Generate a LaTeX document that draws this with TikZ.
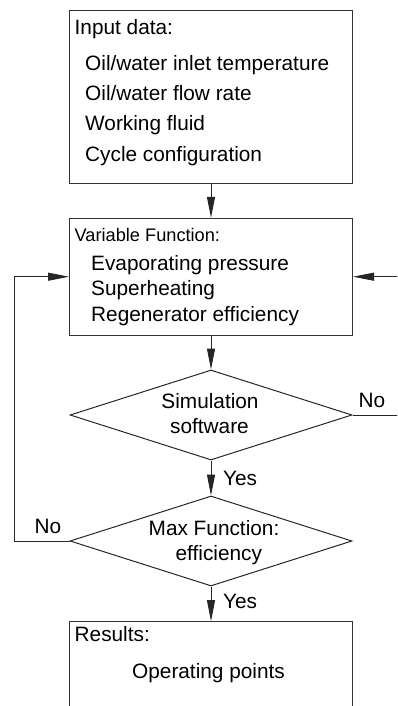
\documentclass[tikz,border=0pt]{standalone}
\usepackage{fontspec}
\setmainfont{Liberation Sans}
\usetikzlibrary{arrows.meta,shapes.geometric}
\begin{document}
\begin{tikzpicture}[x=1pt,y=-1pt,
  box/.style={draw=black!80, line width=1pt, rectangle, inner sep=0pt},
  dec/.style={draw=black!85, line width=1pt, diamond, inner sep=0pt,
              minimum width=282pt, minimum height=90pt},
  txt/.style={inner sep=0pt, anchor=base west, font=\fontsize{20.8}{24}\selectfont},
  ctxt/.style={txt, anchor=base},
  smalltxt/.style={txt, font=\fontsize{18.2}{22}\selectfont},
  flow/.style={draw=black!85, line width=1pt, -{Triangle[length=21pt,width=8pt]}}]
\useasboundingbox (0,0) rectangle (397,706);
\clip (0,0) rectangle (397,706);

% boxes and decisions
\node[box, minimum width=283pt, minimum height=173pt] (inp) at (211,96.7) {};
\node[box, minimum width=283pt, minimum height=116.7pt] (var) at (211,276.7) {};
\node[dec] (sim) at (211,415) {};
\node[dec] (max) at (211,541) {};
\node[box, minimum width=283pt, minimum height=120pt] (res) at (211,681.7) {};

% input data
\node[txt] (inph) at (74.5,35) {Input data:};
\node[txt] (inp1) at (85,71) {Oil/water inlet temperature};
\node[txt] (inp2) at (85,101) {Oil/water flow rate};
\node[txt] (inp3) at (85,131) {Working fluid};
\node[txt] (inp4) at (85,161) {Cycle configuration};

% variable function
\node[smalltxt] (varh) at (74.5,241) {Variable Function:};
\node[txt] (var1) at (91,270) {Evaporating pressure};
\node[txt] (var2) at (91,295) {Superheating};
\node[txt] (var3) at (91,321) {Regenerator efficiency};

% decisions
\node[ctxt] (sim1) at (210,408.3) {Simulation};
\node[ctxt] (sim2) at (209.5,433) {software};
\node[ctxt] (max1) at (214,535) {Max Function:};
\node[ctxt] (max2) at (218.8,560.5) {efficiency};

% results
\node[txt] (resh) at (74.5,641) {Results:};
\node[ctxt] (res1) at (208.5,678) {Operating points};

% branch labels
\node[txt] (no1) at (358.5,407) {No};
\node[txt] (yes1) at (223,485) {Yes};
\node[txt] (no2) at (34.5,533) {No};
\node[txt] (yes2) at (223,608) {Yes};

% connectors
\draw[flow] (inp.south) -- (var.north);
\draw[flow] (var.south) -- (sim.north);
\draw[flow] (sim.south) -- (max.north);
\draw[flow] (max.south) -- (res.north);
\coordinate (lturn) at (14.3,541);
\draw[flow] (max.west) -- (lturn) |- (var.west);
\coordinate (rturn) at (405,415);
\draw[flow] (sim.east) -- (rturn) |- (var.east);
\end{tikzpicture}
\end{document}
